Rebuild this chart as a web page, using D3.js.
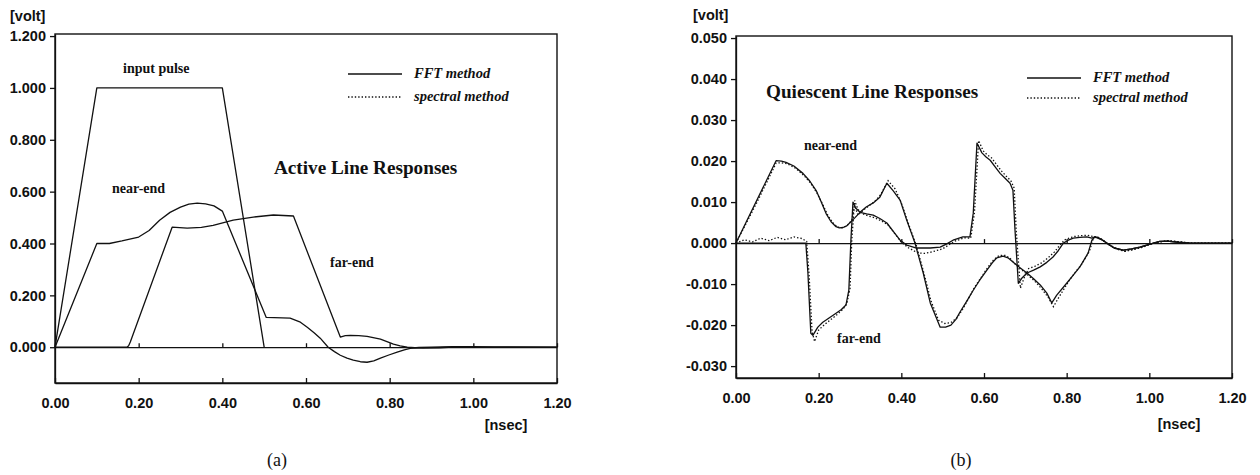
<!DOCTYPE html>
<html>
<head>
<meta charset="utf-8">
<style>
  body { margin: 0; background: #fff; }
  .tick text, .lab-sans { font-family: "Liberation Sans", Arial, sans-serif; font-weight: bold; font-size: 14.5px; fill: #111; }
  .lab-serif { font-family: "Liberation Serif", "Times New Roman", serif; font-weight: bold; font-size: 14px; fill: #111; }
  .title { font-family: "Liberation Serif", "Times New Roman", serif; font-weight: bold; font-size: 19.2px; fill: #111; }
  .legend { font-family: "Liberation Serif", "Times New Roman", serif; font-weight: bold; font-style: italic; font-size: 14.5px; fill: #111; }
  .caption { font-family: "Liberation Serif", "Times New Roman", serif; font-size: 18px; fill: #111; }
  path.curve { fill: none; stroke: #111; stroke-width: 1.3; stroke-linejoin: round; }
  path.dots { fill: none; stroke: #111; stroke-width: 1.3; stroke-dasharray: 1.4 2; }
  .axis path, .axis line { stroke: #111; stroke-width: 1.3; }
</style>
<title>Line responses</title>
</head>
<body>
<script src="https://cdn.jsdelivr.net/npm/d3@7"></script>
<script>

// ---- axes ----
var xTicks = [0, 0.2, 0.4, 0.6, 0.8, 1.0, 1.2];
var yTicksA = [0, 0.2, 0.4, 0.6, 0.8, 1.0, 1.2];
var yTicksB = [-0.03, -0.02, -0.01, 0, 0.01, 0.02, 0.03, 0.04, 0.05];

// ---- (a) active line responses ----
var pulseT = [0, 0.1, 0.4, 0.5];
var pulseV = [0, 1.0, 1.0, 0];

var nearAT = [0, 0.1, 0.13, 0.16, 0.2, 0.225, 0.25, 0.275, 0.3, 0.32, 0.34, 0.36, 0.38, 0.40, 0.505, 0.562, 0.585, 0.603, 0.62, 0.634, 0.653, 0.668, 0.682, 0.698, 0.713, 0.73, 0.746, 0.762, 0.778, 0.798, 0.818, 0.835, 0.849, 0.87, 0.9, 0.95, 1.0, 1.05, 1.2];
var nearAV = [0, 0.40, 0.40, 0.41, 0.425, 0.45, 0.49, 0.52, 0.54, 0.552, 0.556, 0.553, 0.545, 0.525, 0.115, 0.112, 0.098, 0.077, 0.055, 0.035, 0, -0.017, -0.031, -0.042, -0.05, -0.056, -0.058, -0.053, -0.042, -0.03, -0.019, -0.01, -0.004, -0.001, 0, 0.002, 0.002, 0.001, 0];

var farAT = [0, 0.172, 0.176, 0.18, 0.28, 0.316, 0.35, 0.378, 0.426, 0.474, 0.522, 0.57, 0.682, 0.694, 0.706, 0.726, 0.746, 0.778, 0.795, 0.809, 0.825, 0.842, 0.86, 0.88, 0.92, 0.95, 1.2];
var farAV = [0, 0, 0.006, 0.02, 0.463, 0.459, 0.462, 0.47, 0.49, 0.502, 0.51, 0.506, 0.039, 0.045, 0.046, 0.045, 0.042, 0.031, 0.021, 0.012, 0.005, 0, -0.002, -0.003, -0.002, 0, 0];

// ---- (b) quiescent line responses ----
var nearBT = [0, 0.097, 0.11, 0.121, 0.14, 0.162, 0.178, 0.194, 0.206, 0.218, 0.23, 0.242, 0.25, 0.259, 0.268, 0.276, 0.288, 0.30, 0.315, 0.332, 0.348, 0.365, 0.38, 0.397, 0.413, 0.433, 0.453, 0.47, 0.494, 0.507, 0.52, 0.532, 0.542, 0.558, 0.574, 0.59, 0.607, 0.62, 0.631, 0.646, 0.658, 0.67, 0.687, 0.704, 0.72, 0.736, 0.752, 0.764, 0.776, 0.80, 0.816, 0.832, 0.852, 0.861, 0.868, 0.875, 0.887, 0.897, 0.915, 0.937, 0.957, 0.977, 1.01, 1.025, 1.043, 1.07, 1.1, 1.2];
var nearBV = [0, 0.0201, 0.0200, 0.0197, 0.0188, 0.017, 0.0152, 0.0128, 0.0101, 0.0072, 0.0052, 0.0040, 0.0037, 0.0038, 0.0042, 0.005, 0.0062, 0.0075, 0.0088, 0.0098, 0.0112, 0.0146, 0.0128, 0.0105, 0.0056, 0, -0.0073, -0.0146, -0.0205, -0.0205, -0.0200, -0.0186, -0.0168, -0.0142, -0.0115, -0.009, -0.0066, -0.0048, -0.0036, -0.0032, -0.0036, -0.0046, -0.006, -0.0073, -0.0087, -0.0102, -0.0122, -0.0146, -0.0127, -0.0098, -0.0078, -0.0058, -0.0024, 0.0007, 0.0015, 0.0014, 0.0007, 0, -0.0012, -0.0017, -0.0014, -0.001, 0, 0.0004, 0.0005, 0.0002, 0, 0];

var nearBdT = [0, 0.05, 0.097, 0.11, 0.125, 0.145, 0.165, 0.18, 0.196, 0.21, 0.222, 0.234, 0.246, 0.258, 0.27, 0.28, 0.287, 0.295, 0.31, 0.335, 0.35, 0.368, 0.385, 0.40, 0.418, 0.437, 0.455, 0.472, 0.49, 0.505, 0.52, 0.535, 0.548, 0.562, 0.577, 0.593, 0.61, 0.624, 0.637, 0.652, 0.664, 0.676, 0.69, 0.706, 0.722, 0.74, 0.755, 0.768, 0.78, 0.805, 0.82, 0.836, 0.855, 0.864, 0.872, 0.89, 0.90, 0.92, 0.94, 0.96, 0.98, 1.01, 1.045, 1.1, 1.2];
var nearBdV = [0, 0.0098, 0.0195, 0.0196, 0.0193, 0.0182, 0.0164, 0.0147, 0.0122, 0.0094, 0.0068, 0.005, 0.0039, 0.0037, 0.0044, 0.0055, 0.0092, 0.0068, 0.0082, 0.0101, 0.0118, 0.0152, 0.0132, 0.0098, 0.0045, -0.0008, -0.0075, -0.0142, -0.0188, -0.0196, -0.0194, -0.0182, -0.0162, -0.0136, -0.0108, -0.0084, -0.0058, -0.004, -0.003, -0.003, -0.0038, -0.0052, -0.0064, -0.0078, -0.0092, -0.0112, -0.0132, -0.0155, -0.0134, -0.0093, -0.0072, -0.0052, -0.002, 0.001, 0.0016, 0.0006, -0.0002, -0.0014, -0.002, -0.0016, -0.0011, 0, 0.0006, 0, 0];

var farBT = [0, 0.169, 0.174, 0.181, 0.186, 0.198, 0.21, 0.226, 0.242, 0.255, 0.266, 0.273, 0.278, 0.283, 0.29, 0.30, 0.316, 0.332, 0.348, 0.365, 0.381, 0.397, 0.413, 0.437, 0.47, 0.494, 0.51, 0.525, 0.549, 0.566, 0.574, 0.583, 0.595, 0.605, 0.615, 0.627, 0.639, 0.651, 0.663, 0.67, 0.675, 0.68, 0.683, 0.692, 0.704, 0.72, 0.736, 0.752, 0.767, 0.78, 0.792, 0.804, 0.816, 0.832, 0.849, 0.861, 0.868, 0.887, 0.897, 0.915, 0.937, 0.957, 0.977, 1.01, 1.025, 1.043, 1.07, 1.1, 1.2];
var farBV = [0, 0, -0.0073, -0.022, -0.0225, -0.0205, -0.0193, -0.0182, -0.0171, -0.0162, -0.0151, -0.0115, 0.0007, 0.010, 0.0085, 0.0075, 0.0071, 0.0068, 0.006, 0.0049, 0.0028, 0.0007, -0.0005, -0.0012, -0.0012, -0.001, -0.0002, 0.0007, 0.0015, 0.0015, 0.0073, 0.0244, 0.022, 0.021, 0.0202, 0.0186, 0.017, 0.0158, 0.0146, 0.0129, 0.0032, -0.0049, -0.0098, -0.0085, -0.0073, -0.0066, -0.0058, -0.0047, -0.0034, -0.0018, 0, 0.0007, 0.0012, 0.0014, 0.0015, 0.0012, 0.0015, 0.0007, 0, -0.0012, -0.0017, -0.0014, -0.001, 0, 0.0004, 0.0005, 0.0002, 0, 0];

var farBdT = [0, 0.02, 0.04, 0.06, 0.08, 0.10, 0.12, 0.14, 0.16, 0.171, 0.177, 0.184, 0.19, 0.2, 0.215, 0.23, 0.245, 0.258, 0.268, 0.276, 0.28, 0.287, 0.295, 0.305, 0.32, 0.335, 0.352, 0.368, 0.385, 0.40, 0.418, 0.44, 0.456, 0.472, 0.50, 0.528, 0.552, 0.568, 0.577, 0.587, 0.598, 0.608, 0.618, 0.63, 0.642, 0.654, 0.665, 0.673, 0.678, 0.684, 0.688, 0.697, 0.708, 0.724, 0.74, 0.755, 0.77, 0.783, 0.795, 0.808, 0.818, 0.835, 0.85, 0.865, 0.88, 0.90, 0.92, 0.94, 0.96, 0.98, 1.01, 1.045, 1.1, 1.2];
var farBdV = [0, 0.0008, 0.0003, 0.0012, 0.0006, 0.0014, 0.0008, 0.0015, 0.0011, 0.0004, -0.008, -0.0215, -0.024, -0.0212, -0.0198, -0.0186, -0.0174, -0.0162, -0.0148, -0.011, 0.0005, 0.0104, 0.0082, 0.0072, 0.0066, 0.0062, 0.0054, 0.0044, 0.0022, 0.0002, -0.0012, -0.0024, -0.0025, -0.0022, -0.0014, 0.0004, 0.0013, 0.0012, 0.0075, 0.025, 0.0225, 0.0215, 0.0208, 0.0192, 0.0176, 0.0163, 0.0152, 0.0134, 0.003, -0.0055, -0.011, -0.0085, -0.0062, -0.0056, -0.0048, -0.0036, -0.0022, -0.0006, 0.0008, 0.0013, 0.0016, 0.0018, 0.0019, 0.0016, 0.0013, -0.0003, -0.0014, -0.002, -0.0016, -0.0011, 0, 0.0006, 0, 0];

var legendLabels = ["FFT method", "spectral method"];

// ---- drawing ----
var svg = d3.select('body').append('svg')
  .attr('width', 1260)
  .attr('height', 475);

function zip(ts, vs) { return ts.map((t, i) => [t, vs[i]]); }

function panel(p) {
  var x = d3.scaleLinear().domain([0, 1.2]).range(p.xr);
  var y = d3.scaleLinear().domain(p.yd).range(p.yr);
  var g = svg.append('g');

  var line = d3.line()
    .x(d => x(d[0]))
    .y(d => y(d[1]));

  // frame
  g.append('rect')
    .attr('x', p.xr[0]).attr('y', p.yr[1])
    .attr('width', p.xr[1] - p.xr[0]).attr('height', p.yr[0] - p.yr[1])
    .attr('fill', 'none').attr('stroke', '#111').attr('stroke-width', 1.4);

  // bottom axis, ticks pointing inwards
  g.append('g').attr('class', 'axis')
    .attr('transform', `translate(0,${p.yr[0]})`)
    .call(d3.axisBottom(x).tickValues(xTicks).tickSizeInner(-5).tickSizeOuter(0).tickPadding(15)
      .tickFormat(d => d.toFixed(2)));

  // zero line with small ticks
  g.append('g').attr('class', 'axis')
    .attr('transform', `translate(0,${y(0)})`)
    .call(d3.axisTop(x).tickValues(xTicks).tickSize(4).tickSizeOuter(0).tickFormat(''));

  g.append('g').attr('class', 'axis')
    .attr('transform', `translate(${p.xr[0]},0)`)
    .call(d3.axisLeft(y).tickValues(p.yTicks).tickSize(5).tickSizeOuter(0).tickPadding(4)
      .tickFormat(d => d.toFixed(3)));

  g.selectAll('.axis .tick text').attr('fill', '#111');

  p.solid.forEach(s => g.append('path').attr('class', 'curve').attr('d', line(s)));
  p.dotted.forEach(s => g.append('path').attr('class', 'dots').attr('d', line(s)));

  // legend
  var lx = p.legend[0], ly = p.legend[1];
  g.append('line').attr('x1', lx).attr('x2', lx + 54).attr('y1', ly).attr('y2', ly)
    .attr('stroke', '#111').attr('stroke-width', 1.3);
  g.append('line').attr('x1', lx).attr('x2', lx + 54).attr('y1', ly + p.legendGap).attr('y2', ly + p.legendGap)
    .attr('stroke', '#111').attr('stroke-width', 1.3).attr('stroke-dasharray', '1.4 2');
  g.append('text').attr('class', 'legend').attr('x', lx + 66).attr('y', ly + 4).text(legendLabels[0]);
  g.append('text').attr('class', 'legend').attr('x', lx + 66).attr('y', ly + p.legendGap + 4).text(legendLabels[1]);

  p.labels.forEach(l => g.append('text').attr('class', l[3]).attr('x', l[1]).attr('y', l[2]).text(l[0]));

  g.append('text').attr('class', 'lab-sans').attr('x', p.volt[0]).attr('y', p.volt[1]).text('[volt]');
  g.append('text').attr('class', 'lab-sans').attr('x', p.nsec[0]).attr('y', p.nsec[1])
    .attr('text-anchor', 'middle').text('[nsec]');
  g.append('text').attr('class', 'caption').attr('x', p.cap[0]).attr('y', p.cap[1])
    .attr('text-anchor', 'middle').text(p.cap[2]);
}

panel({
  xr: [55, 557], yr: [383, 34], yd: [-0.138, 1.208], yTicks: yTicksA,
  solid: [zip(pulseT, pulseV), zip(nearAT, nearAV), zip(farAT, farAV)],
  dotted: [],
  legend: [348, 74], legendGap: 23,
  labels: [
    ['input pulse', 123, 73, 'lab-serif'],
    ['near-end', 112, 193, 'lab-serif'],
    ['far-end', 330, 267, 'lab-serif'],
    ['Active Line Responses', 274, 174, 'title']
  ],
  volt: [10, 21], nsec: [506, 430], cap: [277, 466, '(a)']
});

panel({
  xr: [736, 1232], yr: [378, 36], yd: [-0.0329, 0.0505], yTicks: yTicksB,
  solid: [zip(nearBT, nearBV), zip(farBT, farBV)],
  dotted: [zip(nearBdT, nearBdV), zip(farBdT, farBdV)],
  legend: [1027, 78], legendGap: 20,
  labels: [
    ['Quiescent Line Responses', 766, 98, 'title'],
    ['near-end', 804, 150, 'lab-serif'],
    ['far-end', 837, 343, 'lab-serif']
  ],
  volt: [693, 20], nsec: [1179, 429], cap: [961, 466, '(b)']
});

</script>
</body>
</html>
